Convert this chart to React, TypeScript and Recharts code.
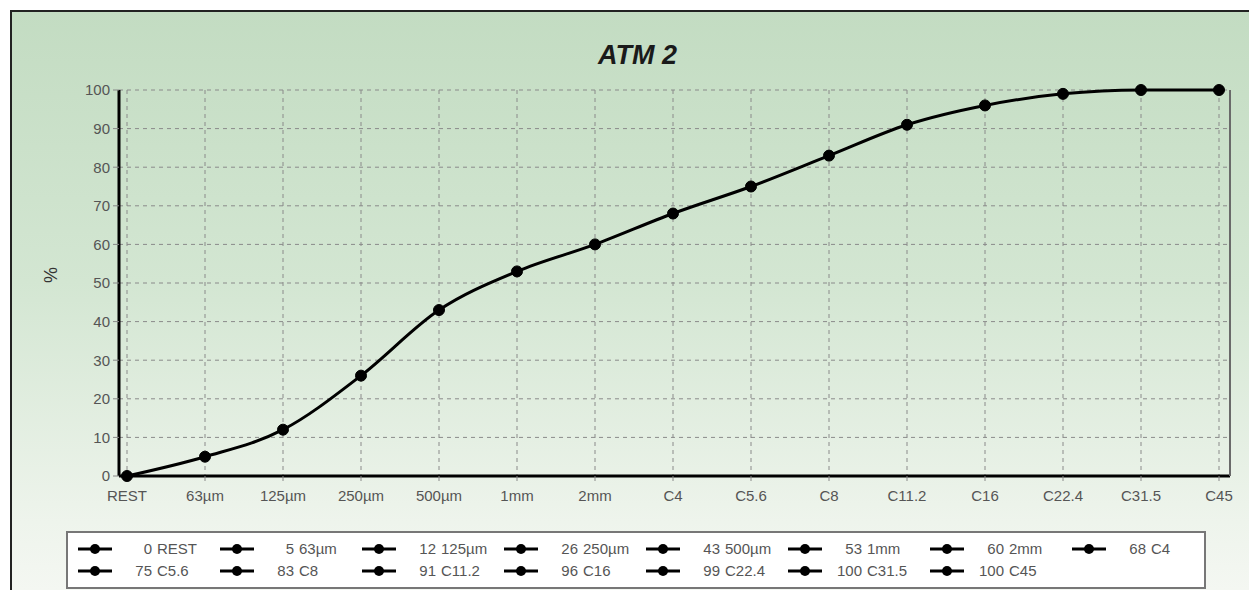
import React from "react";
import { LineChart, Line, XAxis, YAxis, CartesianGrid } from "recharts";

// ATM 2 grading curve: cumulative % passing per sieve
const sieves = ["REST", "63µm", "125µm", "250µm", "500µm", "1mm", "2mm", "C4", "C5.6", "C8", "C11.2", "C16", "C22.4", "C31.5", "C45"];
const passing = [0, 5, 12, 26, 43, 53, 60, 68, 75, 83, 91, 96, 99, 100, 100];
const yTicks = [0, 10, 20, 30, 40, 50, 60, 70, 80, 90, 100];

const data = sieves.map((s, i) => ({ sieve: s, value: passing[i] }));

const FONT = '"Liberation Sans", Arial, sans-serif';
const TEXT = "#555";

function LegendBox() {
  return (
    <div
      style={{
        position: "absolute",
        left: 66,
        top: 531,
        width: 1136,
        height: 54,
        border: "2px solid #777",
        background: "#fff",
        display: "flex",
        flexWrap: "wrap",
        alignContent: "center",
        fontFamily: FONT,
        fontSize: 15,
        color: TEXT,
      }}
    >
      {data.map((d) => (
        <div key={d.sieve} style={{ width: 142, height: 22, position: "relative" }}>
          <svg width={40} height={22} style={{ position: "absolute", left: 8, top: 0 }}>
            <line x1={2} y1={11} x2={36} y2={11} stroke="#000" strokeWidth={3} />
            <circle cx={19} cy={11} r={5} fill="#000" />
          </svg>
          <span style={{ position: "absolute", right: 142 - 84, top: 2 }}>{d.value}</span>
          <span style={{ position: "absolute", left: 89, top: 2, whiteSpace: "nowrap" }}>{d.sieve}</span>
        </div>
      ))}
    </div>
  );
}

export default function App() {
  return (
    <div style={{ position: "fixed", left: 0, top: 0, width: 1249, height: 590, background: "#fff", overflow: "hidden" }}>
      <div
        style={{
          position: "absolute",
          left: 10,
          top: 10,
          width: 1249,
          height: 600,
          border: "2px solid #222",
          background: "linear-gradient(to bottom, #c3dcc2 0%, #d3e6d2 45%, #eef4ec 85%, #f6f8f4 100%)",
        }}
      />
      <div
        style={{
          position: "absolute",
          left: 0,
          top: 40,
          width: 1249,
          textAlign: "center",
          paddingLeft: 26,
          boxSizing: "border-box",
          fontFamily: FONT,
          fontWeight: "bold",
          fontStyle: "italic",
          fontSize: 27,
          color: "#1a1a1a",
        }}
      >
        ATM 2
      </div>
      <div style={{ position: "absolute", left: 0, top: 0 }}>
        <LineChart width={1249} height={590} data={data} margin={{ top: 90, right: 0, left: 0, bottom: 84 }}>
          <CartesianGrid stroke="#8a8a8a" strokeDasharray="4 4" strokeWidth={1} />
          <XAxis
            dataKey="sieve"
            padding={{ left: 8, right: 11 }}
            axisLine={{ stroke: "#000", strokeWidth: 3 }}
            tickLine={{ stroke: "#888" }}
            tickSize={5}
            tickMargin={9}
            height={30}
            interval={0}
            tick={{ fill: TEXT, fontSize: 15, fontFamily: FONT }}
          />
          <XAxis xAxisId="top" orientation="top" dataKey="sieve" height={0} tick={false} tickLine={false} axisLine={{ stroke: "#6a6a6a", strokeWidth: 2 }} />
          <YAxis
            domain={[0, 100]}
            ticks={yTicks}
            width={119}
            interval={0}
            axisLine={{ stroke: "#000", strokeWidth: 3 }}
            tickLine={{ stroke: "#888" }}
            tickSize={6}
            tickMargin={3}
            tick={{ fill: TEXT, fontSize: 15, fontFamily: FONT }}
            label={{ value: "%", angle: -90, position: "insideLeft", offset: 51, fill: "#333", fontSize: 18, fontFamily: FONT }}
          />
          <YAxis yAxisId="right" orientation="right" width={19} tick={false} tickLine={false} axisLine={{ stroke: "#6a6a6a", strokeWidth: 2 }} />
          <Line
            type="monotone"
            dataKey="value"
            stroke="#000"
            strokeWidth={3}
            dot={{ r: 5.5, fill: "#000", stroke: "#000", strokeWidth: 1 }}
            isAnimationActive={false}
          />
        </LineChart>
      </div>
      <LegendBox />
    </div>
  );
}
